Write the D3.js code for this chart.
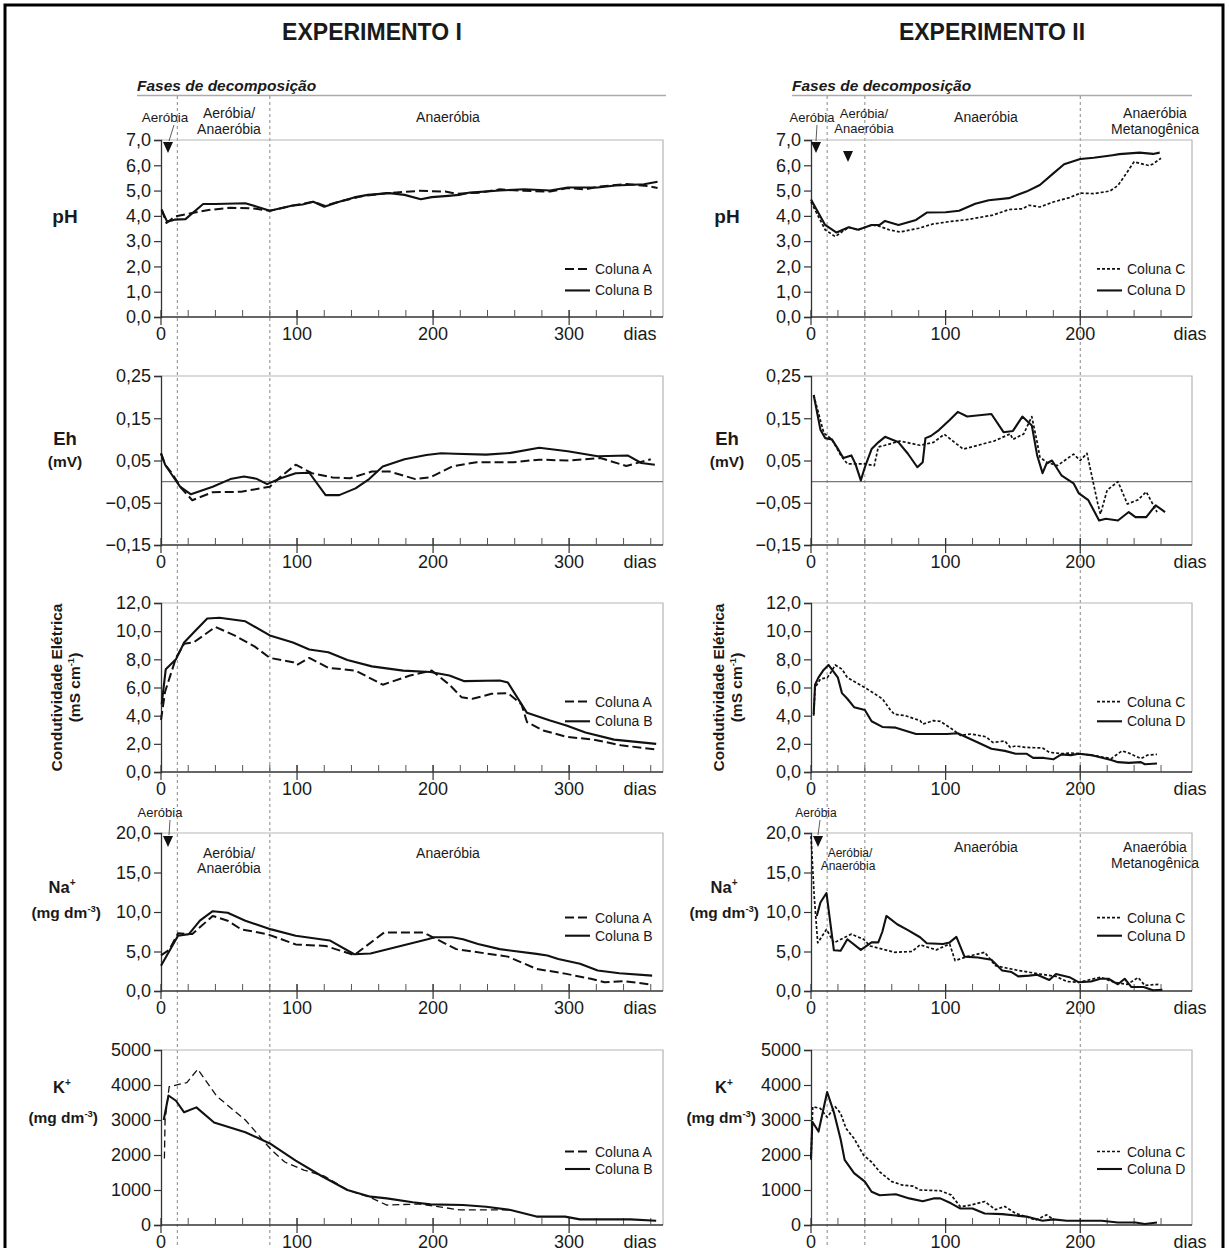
<!DOCTYPE html>
<html><head><meta charset="utf-8">
<script src="https://cdn.jsdelivr.net/npm/d3@7"></script>
<style>
body{margin:0;background:#fff}
svg{display:block}
text{font-family:'Liberation Sans',Arial,Helvetica,sans-serif;fill:#1a1a1a}
</style></head><body>
<svg id="c" width="1229" height="1248"></svg>
<script>
// ---------- DATA (day, value) ----------
const titles = ["EXPERIMENTO I", "EXPERIMENTO II"];
const seriesNamesLeft = ["Coluna A", "Coluna B"];
const seriesNamesRight = ["Coluna C", "Coluna D"];
const xTicksLeft = [0, 100, 200, 300];
const xTicksRight = [0, 100, 200];
const phaseDaysLeft = [12, 80];
const phaseDaysRight = [12, 40, 200];

const pHTicks = [0,1,2,3,4,5,6,7];
const EhTicks = [-0.15,-0.05,0.05,0.15,0.25];
const CETicks = [0,2,4,6,8,10,12];
const NaTicks = [0,5,10,15,20];
const KTicks = [0,1000,2000,3000,4000,5000];

const pH_A = [[0.5,4.25],[4,3.72],[10,3.97],[22,4.1],[35,4.23],[51,4.32],[67,4.3],[80,4.2],[96,4.4],[112,4.56],[120,4.4],[131,4.56],[147,4.77],[166,4.9],[190,4.99],[209,4.96],[217,4.87],[235,4.92],[249,5.05],[267,4.99],[286,4.96],[299,5.1],[312,5.05],[321,5.15],[342,5.26],[358,5.18],[365,5.1]];
const pH_B = [[0.5,4.23],[4.5,3.77],[10,3.85],[18,3.87],[31,4.47],[40,4.47],[62,4.5],[70,4.37],[80,4.2],[88,4.3],[96,4.4],[104,4.45],[112,4.56],[120,4.36],[131,4.56],[142,4.73],[152,4.83],[168,4.9],[179,4.83],[191,4.66],[199,4.74],[211,4.79],[219,4.83],[227,4.92],[249,5.0],[267,5.05],[286,5.0],[299,5.12],[321,5.12],[334,5.2],[355,5.25],[365,5.35]];
const pH_C = [[0,4.55],[10.5,3.45],[18,3.18],[28,3.55],[35,3.45],[45,3.64],[50,3.6],[58,3.45],[66,3.36],[80,3.51],[90,3.67],[104,3.78],[117,3.86],[135,4.03],[147,4.25],[157,4.28],[162,4.42],[170,4.35],[180,4.55],[192,4.72],[200,4.9],[210,4.88],[222,4.98],[228,5.2],[234,5.66],[240,6.14],[244,6.08],[251,5.99],[254,6.05],[260,6.28]];
const pH_D = [[0,4.65],[10.5,3.64],[19,3.34],[28,3.55],[35,3.45],[45,3.64],[51,3.64],[55,3.8],[65,3.64],[78,3.84],[86,4.13],[100,4.14],[110,4.2],[122,4.48],[132,4.62],[147,4.7],[160,4.96],[170,5.22],[180,5.68],[188,6.04],[200,6.25],[210,6.3],[224,6.4],[229,6.44],[244,6.5],[254,6.45],[259,6.5]];

const Eh_A = [[0,0.067],[3,0.04],[8,0.02],[15,-0.016],[23,-0.044],[38,-0.025],[59,-0.024],[80,-0.012],[88,0.012],[99,0.04],[111,0.02],[126,0.01],[139,0.008],[155,0.024],[168,0.024],[187,0.006],[198,0.01],[214,0.036],[232,0.046],[259,0.046],[278,0.052],[299,0.05],[323,0.056],[342,0.037],[360,0.053]];
const Eh_B = [[0,0.067],[3,0.04],[7,0.021],[14,-0.012],[22,-0.03],[38,-0.012],[51,0.006],[61,0.012],[70,0.007],[78,-0.006],[88,0.008],[99,0.02],[109,0.021],[121,-0.032],[131,-0.032],[143,-0.016],[153,0.006],[163,0.036],[179,0.053],[195,0.063],[206,0.067],[216,0.066],[239,0.064],[257,0.068],[278,0.08],[299,0.072],[321,0.06],[343,0.062],[353,0.044],[363,0.04]];
const Eh_C = [[2,0.205],[9.5,0.115],[15.5,0.1],[22,0.063],[27,0.042],[40,0.042],[47,0.038],[50,0.082],[55,0.086],[66,0.096],[81,0.086],[91,0.093],[99,0.112],[113,0.077],[136,0.096],[148,0.113],[150,0.1],[158,0.113],[164,0.154],[168,0.093],[170,0.058],[175,0.046],[183,0.038],[195,0.065],[200,0.05],[205,0.067],[213,-0.052],[215,-0.077],[220,-0.02],[228,0],[235,-0.053],[243,-0.043],[249,-0.024],[257,-0.072]];
const Eh_D = [[2,0.205],[7,0.123],[10.5,0.103],[15.5,0.1],[20.5,0.075],[24,0.056],[30,0.062],[33,0.042],[37,0.003],[40,0.034],[45,0.077],[50,0.093],[55,0.106],[65,0.093],[72,0.066],[79,0.034],[83,0.046],[85,0.103],[89,0.108],[95,0.122],[103,0.146],[109,0.165],[116,0.154],[134,0.16],[143,0.117],[150,0.12],[157,0.154],[164,0.133],[168,0.062],[172,0.02],[175,0.043],[179,0.05],[186,0.015],[195,-0.004],[199,-0.028],[206,-0.044],[214,-0.092],[219,-0.088],[228,-0.092],[236,-0.072],[241,-0.084],[249,-0.084],[256,-0.056],[263,-0.072]];

const CE_A = [[0,3.7],[3,5.7],[9,7.5],[11,8.1],[17,9.1],[24,9.2],[40,10.3],[54,9.7],[69,8.9],[80,8.1],[97,7.8],[100,7.6],[109,8.1],[123,7.4],[143,7.2],[163,6.2],[183,6.85],[199,7.2],[212,6.2],[221,5.3],[229,5.2],[243,5.55],[255,5.6],[265,4.8],[269,3.55],[281,2.95],[298,2.5],[318,2.3],[338,1.9],[364,1.6]];
const CE_B = [[0.5,4.8],[3.5,7.3],[11,8.0],[17,9.2],[24,9.9],[34,10.9],[43,10.95],[62,10.7],[80,9.7],[97,9.2],[109,8.7],[123,8.5],[137,7.95],[155,7.5],[178,7.2],[198,7.1],[212,6.85],[223,6.45],[249,6.5],[255,6.35],[269,4.2],[286,3.65],[298,3.3],[312,2.8],[333,2.3],[364,2.0]];
const CE_C = [[2,4.0],[3,6.0],[7,6.6],[12,6.7],[14,6.95],[18,7.6],[23,7.3],[27,6.7],[40,6.0],[53,5.2],[59,4.4],[62,4.1],[70,4.0],[81,3.65],[83,3.4],[91,3.65],[96,3.6],[104,3.1],[111,2.6],[119,2.7],[130,2.5],[135,2.1],[144,2.2],[148,1.75],[152,1.85],[159,1.75],[172,1.7],[177,1.4],[187,1.3],[193,1.35],[199,1.3],[208,1.2],[223,0.95],[231,1.5],[236,1.35],[245,0.95],[250,1.2],[257,1.25]];
const CE_D = [[2,4.1],[3,6.2],[5.5,6.7],[9,7.2],[13,7.6],[20,6.7],[23,5.6],[27,5.2],[32,4.6],[40,4.4],[45,3.6],[53,3.2],[63,3.15],[78,2.7],[101,2.7],[109,2.75],[124,2.1],[134,1.65],[144,1.5],[152,1.3],[160,1.3],[165,1.0],[173,1.0],[180,0.9],[186,1.25],[193,1.2],[199,1.3],[208,1.2],[223,0.85],[228,0.7],[236,0.65],[245,0.7],[248,0.55],[257,0.6]];

const Na_A = [[0,4.5],[6,5.2],[12.5,7.3],[23,7.2],[38,9.5],[49,8.9],[59,7.8],[78,7.2],[99,5.9],[121,5.7],[142,4.55],[164,7.4],[193,7.4],[217,5.3],[239,4.75],[255,4.35],[276,2.8],[297,2.2],[316,1.55],[326,1.1],[340,1.25],[361,0.8]];
const Na_B = [[0,3.2],[12.5,7.0],[20.5,7.2],[28.6,8.9],[38,10.1],[49,9.9],[62,8.9],[81,7.8],[99,7.0],[124,6.4],[142,4.65],[154,4.75],[196,6.55],[201,6.8],[214,6.8],[222,6.55],[233,5.95],[249,5.3],[276,4.7],[284,4.5],[292,4.05],[308,3.45],[321,2.6],[337,2.25],[361,1.95]];
const Na_C = [[0,19.6],[2.3,12.2],[5,6.1],[11.5,7.8],[17,6.1],[30,7.2],[39,6.55],[44,5.7],[53,5.3],[62,4.9],[75,5.0],[81,5.85],[93,5.2],[103,5.95],[107,3.85],[116,4.35],[129,4.9],[137,3.2],[154,2.6],[170,2.15],[182,1.85],[190,1.2],[199,1.1],[215,1.75],[225,1.1],[235,0.85],[243,1.7],[248,0.7],[258,0.85]];
const Na_D = [[4.3,9.5],[7,11.2],[11.5,12.4],[17,5.15],[22,5.1],[27,6.55],[37,5.2],[45,6.15],[50,6.15],[53,7.5],[56,9.5],[64,8.45],[72,7.7],[81,6.8],[86,6.05],[98,5.95],[103,6.15],[108,6.85],[114,4.35],[124,4.25],[134,3.95],[142,2.6],[149,2.4],[154,1.85],[162,1.95],[168,2.05],[177,1.4],[182,2.15],[192,1.75],[199,1.1],[208,1.2],[215,1.55],[221,1.55],[228,0.85],[233,1.55],[238,0.5],[247,0.5],[254,0.1],[261,0.15]];

const K_A = [[2.5,1900],[3,3000],[6,3950],[19,4070],[27,4450],[41,3680],[62,3000],[81,2150],[91,1800],[105,1570],[120,1400],[137,1000],[153,800],[166,570],[190,600],[220,430],[241,430],[257,430]];
const K_B = [[2,3000],[5.5,3700],[11,3550],[17,3220],[26,3360],[39,2930],[62,2650],[80,2330],[99,1840],[118,1400],[137,1000],[154,810],[166,760],[185,650],[198,590],[222,570],[239,520],[257,430],[276,240],[297,240],[308,160],[345,160],[364,120]];
const K_C = [[0,1860],[1.3,3380],[7,3330],[12,3080],[18,3380],[22,3190],[26,2760],[32,2470],[39,2000],[45,1800],[51,1520],[60,1240],[68,1140],[76,1110],[81,1000],[96,980],[104,860],[111,520],[119,570],[129,670],[137,440],[144,530],[152,330],[160,240],[167,140],[175,290],[180,160]];
const K_D = [[0,1900],[1,2950],[5.6,2670],[12,3800],[17,3220],[22,2450],[25,1860],[32,1480],[40,1240],[45,950],[51,850],[63,880],[73,760],[83,680],[91,760],[96,760],[104,620],[111,470],[120,470],[129,330],[142,310],[152,270],[160,240],[172,120],[180,160],[190,120],[208,120],[216,120],[228,70],[241,70],[248,30],[257,70]];

// ---------- LAYOUT ----------
const svg = d3.select('#c');
const cols = [
  {x0:161, x1:663, dmax:369, ticks:xTicksLeft, minorMax:360, dias:640, phases:phaseDaysLeft, names:seriesNamesLeft, legX:565, title:titles[0], titleX:372, fasesX:137, fasesEnd:666, labX:65, mgEnd:101},
  {x0:811, x1:1192, dmax:283, ticks:xTicksRight, minorMax:260, dias:1190, phases:phaseDaysRight, names:seriesNamesRight, legX:1097, title:titles[1], titleX:992, fasesX:792, fasesEnd:1192, labX:727, mgEnd:759}
];
const fmtComma = f => v => d3.format(f)(v).replace('.', ',');
const rows = [
  {key:'pH', y0:140, y1:317, dom:[0,7], ticks:pHTicks, fmt:fmtComma('.1f'), data:[[pH_A,pH_B],[pH_C,pH_D]], leg:[1.9,1.05]},
  {key:'Eh', y0:376, y1:545, dom:[-0.15,0.25], ticks:EhTicks, fmt:fmtComma('.2f'), data:[[Eh_A,Eh_B],[Eh_C,Eh_D]], leg:null, zero:true},
  {key:'CE', y0:603, y1:772, dom:[0,12], ticks:CETicks, fmt:fmtComma('.1f'), data:[[CE_A,CE_B],[CE_C,CE_D]], leg:[5.0,3.6]},
  {key:'Na', y0:833, y1:991, dom:[0,20], ticks:NaTicks, fmt:fmtComma('.1f'), data:[[Na_A,Na_B],[Na_C,Na_D]], leg:[9.3,7.0]},
  {key:'K', y0:1050, y1:1225, dom:[0,5000], ticks:KTicks, fmt:d3.format('d'), data:[[K_A,K_B],[K_C,K_D]], leg:[2100,1600]}
];
const styles = [
  [{w:2, dash:'9,4'}, {w:2.1, dash:null}],
  [{w:1.7, dash:'3,2'}, {w:2.1, dash:null}]
];

// border
svg.append('rect').attr('x',5).attr('y',5).attr('width',1218).attr('height',1270)
  .attr('fill','none').attr('stroke','#000').attr('stroke-width',3);

cols.forEach((c, ci) => {
  const x = d3.scaleLinear().domain([0, c.dmax]).range([c.x0, c.x1]);
  svg.append('text').attr('x', c.titleX).attr('y', 40).attr('text-anchor','middle')
    .attr('font-size', 23).attr('font-weight','bold').text(c.title);
  svg.append('text').attr('x', c.fasesX).attr('y', 91).attr('font-size', 15.5)
    .attr('font-weight','bold').attr('font-style','italic').text('Fases de decomposição');
  svg.append('line').attr('x1', c.fasesX).attr('x2', c.fasesEnd).attr('y1', 95.5).attr('y2', 95.5)
    .attr('stroke','#aaa').attr('stroke-width',1.5);
  c.phases.forEach(p => {
    svg.append('line').attr('x1', x(p)).attr('x2', x(p)).attr('y1', 96).attr('y2', 1248)
      .attr('stroke','#888').attr('stroke-width',1).attr('stroke-dasharray','3,3');
  });

  rows.forEach((r, ri) => {
    const y = d3.scaleLinear().domain(r.dom).range([r.y1, r.y0]);
    const g = svg.append('g');
    g.append('path').attr('d', `M${c.x0},${r.y0}H${c.x1}V${r.y1}`).attr('fill','none')
      .attr('stroke','#b5b5b5').attr('stroke-width',1.2);
    if (r.zero) g.append('line').attr('x1',c.x0).attr('x2',c.x1).attr('y1',y(0)).attr('y2',y(0))
      .attr('stroke','#777').attr('stroke-width',1.2);
    const ya = g.append('g').attr('transform',`translate(${c.x0},0)`)
      .call(d3.axisLeft(y).tickValues(r.ticks).tickFormat(r.fmt).tickSize(7).tickPadding(3));
    ya.select('.domain').attr('stroke','#333').attr('stroke-width',1.3);
    ya.selectAll('.tick line').attr('stroke','#333').attr('stroke-width',1.2);
    ya.selectAll('.tick text').attr('font-size',18).attr('fill','#1a1a1a')
      .attr('font-family',"'Liberation Sans',Arial,sans-serif");
    const xa = g.append('g').attr('transform',`translate(0,${r.y1})`);
    xa.append('line').attr('x1',c.x0).attr('x2',c.x1).attr('stroke','#333').attr('stroke-width',1.3);
    xa.selectAll('line.minor').data(d3.range(20, c.minorMax + 1, 20)).join('line').attr('class','minor')
      .attr('x1', d => x(d)).attr('x2', d => x(d)).attr('y1', 0).attr('y2', -7)
      .attr('stroke','#555').attr('stroke-width',1);
    xa.selectAll('line.major').data(c.ticks).join('line').attr('class','major')
      .attr('x1', d => x(d)).attr('x2', d => x(d)).attr('y1', -7).attr('y2', 8)
      .attr('stroke','#333').attr('stroke-width',1.2);
    xa.selectAll('text.xl').data(c.ticks).join('text').attr('class','xl')
      .attr('x', d => x(d)).attr('y', 23).attr('text-anchor','middle').attr('font-size',18).text(d => d);
    xa.append('text').attr('x', c.dias).attr('y', 23).attr('text-anchor','middle').attr('font-size',18).text('dias');

    const line = d3.line().x(d => x(d[0])).y(d => y(d[1]));
    r.data[ci].forEach((s, si) => {
      const st = styles[ci][si];
      let w = st.w; let dash = st.dash;
      if (r.key === 'K' && ci === 0 && si === 0) { w = 1.3; dash = '7,4'; }
      g.append('path').datum(s).attr('d', line).attr('fill','none').attr('stroke','#111')
        .attr('stroke-width', w).attr('stroke-dasharray', dash).attr('stroke-linejoin','round');
    });
    if (r.leg) {
      r.leg.forEach((lv, li) => {
        const st = styles[ci][li];
        const ly = y(lv);
        g.append('line').attr('x1', c.legX).attr('x2', c.legX + 25).attr('y1', ly).attr('y2', ly)
          .attr('stroke','#111').attr('stroke-width', st.w).attr('stroke-dasharray', st.dash);
        g.append('text').attr('x', c.legX + 30).attr('y', ly + 5).attr('font-size', 14).text(c.names[li]);
      });
    }
  });
});

// ---------- PANEL LABELS ----------
function lab(xp, yp, txt, size) {
  return svg.append('text').attr('x', xp).attr('y', yp).attr('text-anchor', 'middle')
    .attr('font-size', size).attr('font-weight','bold').text(txt);
}
function unitLab(xp, yp, base, sup, anchor, rot) {
  const t = svg.append('text').attr('text-anchor', anchor).attr('font-size', 15.5).attr('font-weight','bold');
  if (rot) t.attr('transform', `translate(${xp},${yp}) rotate(-90)`); else t.attr('x', xp).attr('y', yp);
  t.append('tspan').text(base);
  t.append('tspan').attr('font-size', 9.5).attr('dy', -6).text(sup);
  t.append('tspan').attr('dy', 6).text(')');
}
function ionLab(xp, yp, base) {
  const t = svg.append('text').attr('x', xp).attr('y', yp).attr('text-anchor','middle')
    .attr('font-size', 16.5).attr('font-weight','bold');
  t.append('tspan').text(base); t.append('tspan').attr('font-size', 10).attr('dy', -7).text('+');
}
cols.forEach((c, ci) => {
  const yOf = (ri, v) => d3.scaleLinear().domain(rows[ri].dom).range([rows[ri].y1, rows[ri].y0])(v);
  const lx = c.labX;
  lab(lx, yOf(0, 4.0) + 7, 'pH', 19);
  lab(lx, yOf(1, 0.10) + 6, 'Eh', 18.5);
  lab(lx, yOf(1, 0.05) + 6, '(mV)', 15.5);
  const cy = (rows[2].y0 + rows[2].y1) / 2;
  svg.append('text').attr('transform', `translate(${lx - 3},${cy}) rotate(-90)`).attr('text-anchor','middle')
    .attr('font-size', 15.5).attr('font-weight','bold').text('Condutividade Elétrica');
  unitLab(lx + 15, cy, '(mS cm', '-1', 'middle', true);
  ionLab(lx - 3, yOf(3, 13.2) + 6, 'Na');
  unitLab(c.mgEnd, yOf(3, 10) + 6, '(mg dm', '-3', 'end', false);
  ionLab(lx - 3, yOf(4, 3950) + 6, 'K');
  unitLab(c.mgEnd - 3, yOf(4, 3100) + 6, '(mg dm', '-3', 'end', false);
});

// ---------- PHASE LABELS ----------
function txt(xp, yp, s, size) {
  svg.append('text').attr('x', xp).attr('y', yp).attr('text-anchor','middle').attr('font-size', size || 14)
    .attr('fill','#222').text(s);
}
function tri(xp, yp) {
  svg.append('path').attr('d', `M${xp - 5},${yp - 6}L${xp + 5},${yp - 6}L${xp},${yp + 5}Z`).attr('fill','#111');
}
function arrowLine(x1, y1, x2, y2) {
  svg.append('line').attr('x1', x1).attr('y1', y1).attr('x2', x2).attr('y2', y2).attr('stroke','#333').attr('stroke-width',0.8);
}
txt(165, 122, 'Aeróbia', 13.5); arrowLine(174, 125, 169, 141); tri(168, 148);
txt(229, 118, 'Aeróbia/'); txt(229, 134, 'Anaeróbia');
txt(448, 122, 'Anaeróbia');
txt(812, 122, 'Aeróbia', 13); arrowLine(817, 125, 816, 141); tri(816, 148);
txt(864, 118, 'Aeróbia/', 13); txt(864, 133, 'Anaeróbia', 13); tri(848, 157);
txt(986, 122, 'Anaeróbia');
txt(1155, 118, 'Anaeróbia'); txt(1155, 134, 'Metanogênica');
txt(160, 817, 'Aeróbia', 13); arrowLine(170, 820, 169, 835); tri(168, 842);
txt(229, 858, 'Aeróbia/'); txt(229, 873, 'Anaeróbia');
txt(448, 858, 'Anaeróbia');
txt(816, 817, 'Aeróbia', 12); arrowLine(820, 820, 818, 835); tri(818, 842);
txt(850, 857, 'Aeróbia/', 12); txt(848, 870, 'Anaeróbia', 12);
txt(986, 852, 'Anaeróbia');
txt(1155, 852, 'Anaeróbia'); txt(1155, 868, 'Metanogênica');
</script>
</body></html>
